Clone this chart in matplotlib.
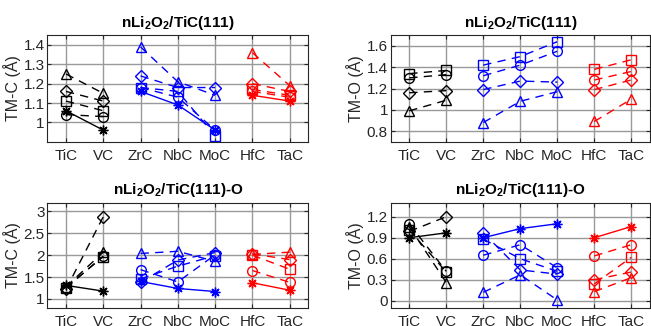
import matplotlib
matplotlib.use('Agg')
import matplotlib.pyplot as plt
from matplotlib.ticker import FuncFormatter

plt.rcParams['font.family'] = 'Liberation Sans'
plt.rcParams['mathtext.fontset'] = 'custom'
plt.rcParams['mathtext.rm'] = 'Liberation Sans'
plt.rcParams['mathtext.bf'] = 'Liberation Sans:bold'

materials = ['TiC', 'VC', 'ZrC', 'NbC', 'MoC', 'HfC', 'TaC']
# index ranges that are joined by lines, with the colour of each family
groups = [(0, 2, 'k'), (2, 5, 'b'), (5, 7, 'r')]

# TM-C, nLi2O2/TiC(111)
a_tri = [1.25, 1.15, 1.39, 1.21, 1.14, 1.36, 1.19]
a_dia = [1.16, 1.11, 1.24, 1.18, 1.18, 1.20, 1.16]
a_sq = [1.11, 1.06, 1.18, 1.16, 0.93, 1.17, 1.14]
a_circ = [1.04, 1.03, 1.18, 1.13, 0.96, 1.16, 1.13]
a_ast = [1.06, 0.96, 1.16, 1.09, 0.96, 1.14, 1.11]

# TM-O, nLi2O2/TiC(111)
b_tri = [0.99, 1.09, 0.88, 1.08, 1.17, 0.89, 1.10]
b_dia = [1.16, 1.18, 1.19, 1.27, 1.26, 1.19, 1.28]
b_sq = [1.34, 1.37, 1.42, 1.50, 1.64, 1.38, 1.47]
b_circ = [1.30, 1.33, 1.32, 1.42, 1.55, 1.28, 1.36]

# TM-C, nLi2O2/TiC(111)-O
c_tri = [1.28, 2.07, 2.04, 2.09, 1.86, 2.02, 2.07]
c_dia = [1.22, 2.88, 1.38, 1.89, 2.06, 2.03, 1.90]
c_sq = [1.26, 1.97, 1.46, 1.75, 1.99, 2.00, 1.68]
c_circ = [1.25, 1.98, 1.67, 1.39, 2.01, 1.65, 1.38]
c_ast = [1.31, 1.18, 1.40, 1.24, 1.17, 1.37, 1.20]

# TM-O, nLi2O2/TiC(111)-O
d_tri = [1.06, 0.26, 0.12, 0.37, 0.01, 0.13, 0.33]
d_dia = [0.99, 1.20, 0.97, 0.44, 0.38, 0.30, 0.41]
d_sq = [1.01, 0.41, 0.88, 0.60, 0.42, 0.24, 0.62]
d_circ = [1.10, 0.42, 0.65, 0.80, 0.47, 0.64, 0.80]
d_ast = [0.90, 0.97, 0.90, 1.03, 1.10, 0.90, 1.06]

title1 = r'nLi$_\mathbf{2}$O$_\mathbf{2}$/TiC(111)'
title2 = r'nLi$_\mathbf{2}$O$_\mathbf{2}$/TiC(111)-O'

ast = (8, 2, 0)
panels = [
    ([0.0727, 0.5653, 0.401, 0.3264], title1, 'TM-C (Å)', (0.9, 1.45), [1, 1.1, 1.2, 1.3, 1.4],
     [(a_circ, 'o', '--'), (a_ast, ast, '-'), (a_sq, 's', '--'), (a_dia, 'D', '--'), (a_tri, '^', '--')]),
    ([0.6002, 0.5653, 0.398, 0.3264], title1, 'TM-O (Å)', (0.7, 1.7), [0.8, 1, 1.2, 1.4, 1.6],
     [(b_circ, 'o', '--'), (b_sq, 's', '--'), (b_dia, 'D', '--'), (b_tri, '^', '--')]),
    ([0.0727, 0.0561, 0.401, 0.322], title2, 'TM-C (Å)', (0.8, 3.2), [1, 1.5, 2, 2.5, 3],
     [(c_circ, 'o', '--'), (c_ast, ast, '-'), (c_sq, 's', '--'), (c_dia, 'D', '--'), (c_tri, '^', '--')]),
    ([0.6002, 0.0561, 0.398, 0.322], title2, 'TM-O (Å)', (-0.1, 1.4), [0, 0.3, 0.6, 0.9, 1.2],
     [(d_circ, 'o', '--'), (d_ast, ast, '-'), (d_sq, 's', '--'), (d_dia, 'D', '--'), (d_tri, '^', '--')]),
]

fig = plt.figure(figsize=(6.51, 3.26), dpi=100)
x = list(range(1, len(materials) + 1))

for rect, title, ylabel, ylim, yticks, series in panels:
    ax = fig.add_axes(rect)
    for vals, marker, ls in series:
        for i0, i1, col in groups:
            ms = 6 if marker == 'D' else 7
            ax.plot(x[i0:i1], vals[i0:i1], linestyle=ls, color=col, marker=marker,
                    markersize=ms, markerfacecolor='none', markeredgecolor=col,
                    markeredgewidth=1.0, linewidth=1.0,
                    dashes=(6, 4.5) if ls == '--' else (None, None))
    ax.set_xlim(0.5, 7.5)
    ax.set_ylim(*ylim)
    ax.set_xticks(x)
    ax.set_xticklabels(materials)
    ax.set_yticks(yticks)
    ax.yaxis.set_major_formatter(FuncFormatter(lambda v, p: '%g' % round(v, 3)))
    ax.tick_params(direction='in', length=3, labelsize=11, top=True, right=True,
                   color='0.15', labelcolor='0.15')
    ax.tick_params(axis='x', pad=5)
    ax.tick_params(axis='y', pad=2)
    ax.grid(True, color='0.6', linewidth=1)
    ax.set_axisbelow(True)
    for sp in ax.spines.values():
        sp.set_color('0.15')
        sp.set_linewidth(0.8)
    ax.set_title(title, fontsize=11, fontweight='bold', pad=6)
    ax.set_ylabel(ylabel, fontsize=11.5, color='0.15', labelpad=2)

fig.savefig('out.png', dpi=100)
